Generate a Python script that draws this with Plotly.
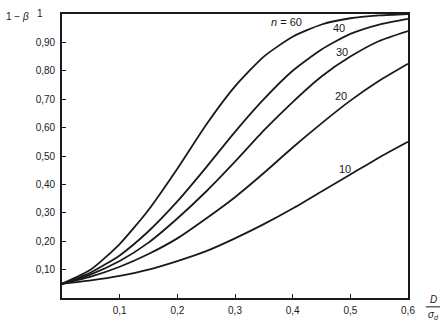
import plotly.graph_objects as go

# Effect size D / sigma_d
effect = [0.0, 0.05, 0.10, 0.15, 0.20, 0.25, 0.30, 0.35, 0.40, 0.45, 0.50, 0.55, 0.60]

# Power 1 - beta for each sample size n
power_n10 = [0.05, 0.062, 0.078, 0.10, 0.13, 0.165, 0.21, 0.26, 0.315, 0.375, 0.435, 0.495, 0.55]
power_n20 = [0.05, 0.075, 0.11, 0.155, 0.21, 0.28, 0.355, 0.44, 0.53, 0.615, 0.695, 0.765, 0.825]
power_n30 = [0.05, 0.083, 0.13, 0.195, 0.28, 0.375, 0.48, 0.59, 0.69, 0.78, 0.85, 0.905, 0.94]
power_n40 = [0.05, 0.09, 0.15, 0.235, 0.34, 0.46, 0.585, 0.70, 0.80, 0.875, 0.93, 0.963, 0.983]
power_n60 = [0.05, 0.10, 0.19, 0.31, 0.455, 0.61, 0.745, 0.85, 0.92, 0.963, 0.985, 0.995, 1.0]

series = [("10", power_n10), ("20", power_n20), ("30", power_n30),
          ("40", power_n40), ("60", power_n60)]

# Curve labels: text and data position
curve_labels = [
    ("<i>n</i> = 60", 0.390, 0.972),
    ("40", 0.480, 0.950),
    ("30", 0.485, 0.865),
    ("20", 0.484, 0.710),
    ("10", 0.491, 0.455),
]

x_ticks = [0.1, 0.2, 0.3, 0.4, 0.5, 0.6]
x_tick_text = ["0,1", "0,2", "0,3", "0,4", "0,5", "0,6"]
y_ticks = [0.1, 0.2, 0.3, 0.4, 0.5, 0.6, 0.7, 0.8, 0.9]
y_tick_text = ["0,10", "0,20", "0,30", "0,40", "0,50", "0,60", "0,70", "0,80", "0,90"]

FONT = "Liberation Sans, Arial, sans-serif"
INK = "#1a1a1a"

# plot area in pixels (used for placing the axis captions)
L, R, T, B = 62, 37, 13, 26
W, H = 445, 328
PW, PH = W - L - R, H - T - B

fig = go.Figure()
for name, vals in series:
    fig.add_trace(go.Scatter(
        x=effect, y=vals, mode="lines", name=f"n = {name}",
        line=dict(color=INK, width=1.8, shape="spline", smoothing=0.6),
        showlegend=False, hoverinfo="skip",
    ))

for text, xv, yv in curve_labels:
    fig.add_annotation(x=xv, y=yv, text=text, showarrow=False,
                       font=dict(family=FONT, size=11, color=INK),
                       xref="x", yref="y")

# y-axis caption and the top "1" label
fig.add_annotation(x=0, y=1, xref="paper", yref="paper", text="1 − <i>β</i>",
                   xanchor="center", yanchor="middle", xshift=-45, yshift=-2,
                   showarrow=False, font=dict(family=FONT, size=10, color=INK))
fig.add_annotation(x=0, y=1, xref="paper", yref="paper", text="1",
                   xanchor="center", yanchor="middle", xshift=-22, yshift=1,
                   showarrow=False, font=dict(family=FONT, size=10, color=INK))

# x-axis caption D / sigma_d as a stacked fraction
fig.add_annotation(x=1, y=0, xref="paper", yref="paper", text="<i>D</i>",
                   xanchor="center", yanchor="middle", xshift=25, yshift=-1,
                   showarrow=False, font=dict(family=FONT, size=10, color=INK))
fig.add_annotation(x=1, y=0, xref="paper", yref="paper", text="<i>σ<sub>d</sub></i>",
                   xanchor="center", yanchor="middle", xshift=25, yshift=-17,
                   showarrow=False, font=dict(family=FONT, size=10, color=INK))
fig.add_shape(type="line", xref="paper", yref="paper",
              x0=1 + 18 / PW, x1=1 + 32 / PW, y0=-9 / PH, y1=-9 / PH,
              line=dict(color=INK, width=1))

fig.update_layout(
    width=W, height=H,
    margin=dict(l=L, r=R, t=T, b=B),
    paper_bgcolor="white", plot_bgcolor="white",
    font=dict(family=FONT, size=10, color=INK),
)
fig.update_xaxes(
    range=[0, 0.6], tickvals=x_ticks, ticktext=x_tick_text,
    ticks="inside", ticklen=4, tickwidth=1.2, tickcolor=INK,
    showline=True, linecolor=INK, linewidth=1.8, mirror=True,
    showgrid=False, zeroline=False, ticklabelstandoff=2,
    tickfont=dict(family=FONT, size=10, color=INK),
)
fig.update_yaxes(
    range=[0, 1.0], tickvals=y_ticks, ticktext=y_tick_text,
    ticks="inside", ticklen=4, tickwidth=1.2, tickcolor=INK,
    showline=True, linecolor=INK, linewidth=1.8, mirror=True,
    showgrid=False, zeroline=False, ticklabelstandoff=3,
    tickfont=dict(family=FONT, size=10, color=INK),
)

fig.write_html("out.html")
